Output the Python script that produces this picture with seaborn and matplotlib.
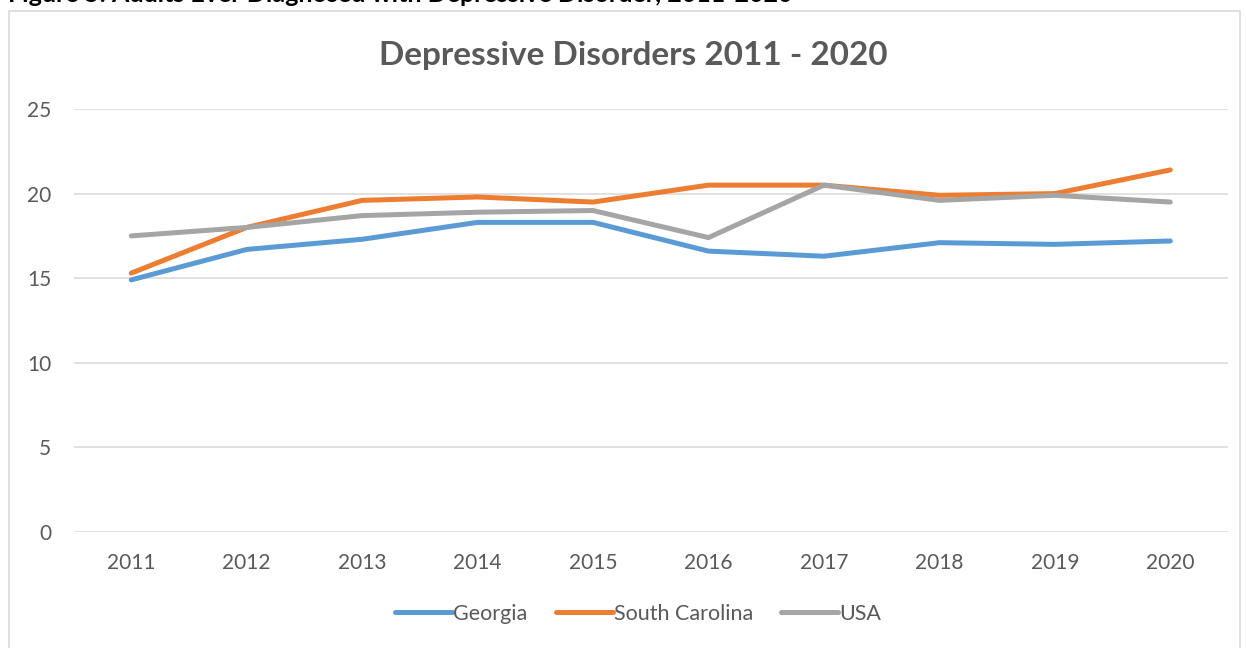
import matplotlib
matplotlib.use("Agg")
import matplotlib.pyplot as plt
import seaborn as sns
import pandas as pd
from matplotlib.patches import Rectangle

years = ["2011", "2012", "2013", "2014", "2015", "2016", "2017", "2018", "2019", "2020"]
georgia = [14.9, 16.7, 17.3, 18.3, 18.3, 16.6, 16.3, 17.1, 17.0, 17.2]
south_carolina = [15.3, 18.0, 19.6, 19.8, 19.5, 20.5, 20.5, 19.9, 20.0, 21.4]
usa = [17.5, 18.0, 18.7, 18.9, 19.0, 17.4, 20.5, 19.6, 19.9, 19.5]
series_names = ["Georgia", "South Carolina", "USA"]
colors = ["#5B9BD5", "#ED7D31", "#A5A5A5"]

rows = []
for name, vals in zip(series_names, [georgia, south_carolina, usa]):
    for i, (yr, v) in enumerate(zip(years, vals)):
        rows.append({"pos": i, "year": yr, "value": v, "series": name})
df = pd.DataFrame(rows)

sns.set_theme(style="white")
plt.rcParams["font.family"] = ["Lato", "DejaVu Sans"]
text_color = "#595959"

fig = plt.figure(figsize=(12.46, 6.48), dpi=100)
ax = fig.add_axes([73.5 / 1246, 116 / 648, (1228 - 73.5) / 1246, (532 - 109) / 648])

sns.lineplot(data=df, x="pos", y="value", hue="series", hue_order=series_names,
             palette=colors, linewidth=3.6, ax=ax, sort=False,
             solid_capstyle="round")

ax.set_xlim(-0.5, len(years) - 0.5)
ax.set_ylim(0, 25)
ax.set_yticks([0, 5, 10, 15, 20, 25])
ax.set_xticks(range(len(years)))
ax.set_xticklabels(years)
ax.yaxis.grid(True, color="#D9D9D9", linewidth=1.1)
ax.set_axisbelow(True)
for s in ax.spines.values():
    s.set_visible(False)
ax.tick_params(axis="both", length=0, labelsize=15, colors=text_color)
ax.tick_params(axis="x", pad=15)
ax.tick_params(axis="y", pad=16)
ax.set_xlabel("")
ax.set_ylabel("")

handles = ax.get_legend().legend_handles
for h in handles:
    h.set_linewidth(3.6)
    h.set_solid_capstyle("round")
ax.legend(handles=handles, labels=series_names, loc="center",
          bbox_to_anchor=(638 / 1246, 1 - 614 / 648),
          bbox_transform=fig.transFigure, ncol=3, frameon=False, fontsize=15.5,
          handlelength=2.65, handletextpad=0.05, columnspacing=1.3,
          labelcolor=text_color)

fig.text(633 / 1246, 1 - 55 / 648, "Depressive Disorders 2011 - 2020",
         ha="center", va="center", fontsize=24, fontweight="bold", color=text_color)

# chart frame
fig.patches.append(Rectangle((9 / 1246, -0.05), (1240 - 9) / 1246, 1.05 - 11 / 648,
                             transform=fig.transFigure, fill=False,
                             edgecolor="#D9D9D9", linewidth=1.2))

# caption line above the chart frame (runs past the top edge)
fig.text(8 / 1246, 1 - 1.5 / 648, "Figure 5: Adults Ever Diagnosed with Depressive Disorder, 2011-2020",
         ha="left", va="baseline", fontsize=18, fontweight="bold", color="black")

fig.savefig("out.png", dpi=100)
